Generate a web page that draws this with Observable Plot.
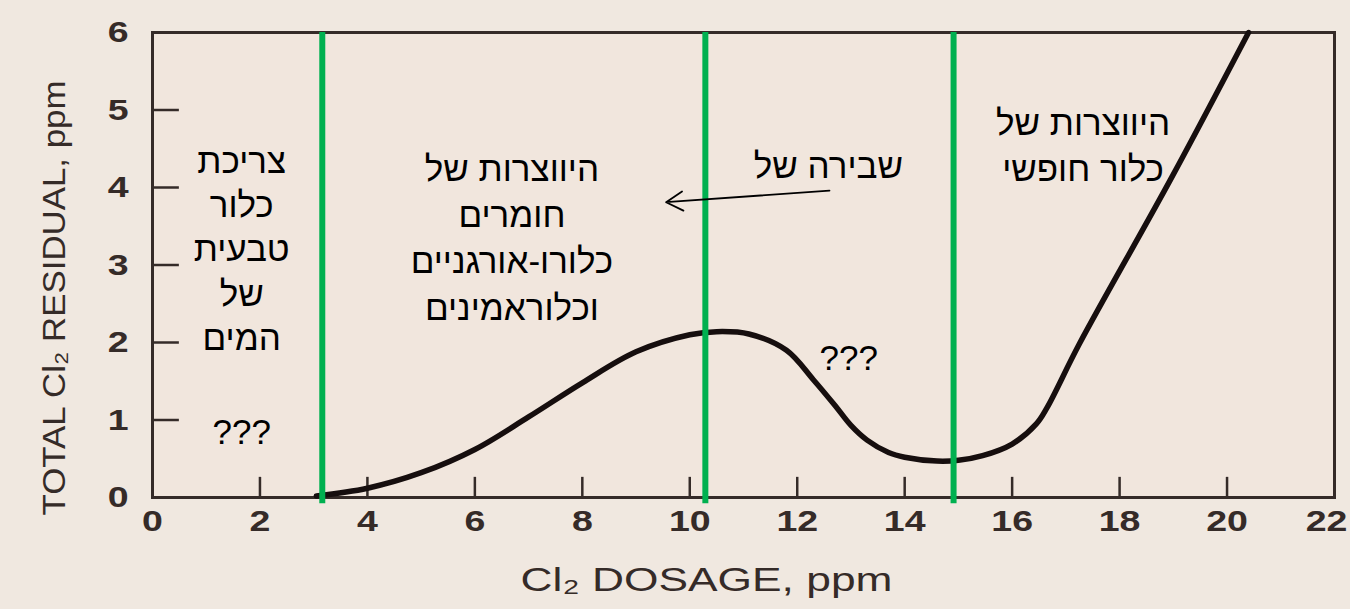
<!DOCTYPE html>
<html>
<head>
<meta charset="utf-8">
<script src="https://cdn.jsdelivr.net/npm/d3@7"></script>
<script src="https://cdn.jsdelivr.net/npm/@observablehq/plot@0.6"></script>
<style>
  html, body { margin: 0; padding: 0; background: #f0e8e0; }
  #chart { width: 1350px; height: 609px; }
</style>
</head>
<body>
<div id="chart"></div>
<script>
// ---- data ----
const curveX = [3.05, 4, 5, 6, 7, 8, 9, 10, 10.5, 11.1, 11.8, 12.3, 12.7, 13.0, 13.3, 13.7, 14, 14.6, 15.0, 15.45, 16, 16.45, 16.65, 17.25, 18.97, 20.4];
const curveY = [0.02, 0.12, 0.32, 0.62, 1.04, 1.48, 1.88, 2.1, 2.14, 2.11, 1.9, 1.52, 1.19, 0.93, 0.74, 0.58, 0.52, 0.47, 0.48, 0.54, 0.69, 0.95, 1.16, 1.98, 4.13, 6.0];
const greenX = [3.16, 10.29, 14.91];
const xTickLabels = [0, 2, 4, 6, 8, 10, 12, 14, 16, 18, 20, 22];
const yTickLabels = [0, 1, 2, 3, 4, 5, 6];
const xInnerTicks = [2, 4, 6, 8, 10, 12, 14, 16, 18, 20];
const yInnerTicks = [1, 2, 3, 4, 5];
const xTitle = "Cl\u2082 DOSAGE, ppm";
const yTitle = "TOTAL Cl\u2082 RESIDUAL, ppm";
const noteTexts = ["צריכת\nכלור\nטבעית\nשל\nהמים", "???", "היווצרות של\nחומרים\nכלורו-אורגניים\nוכלוראמינים", "שבירה של", "היווצרות של\nכלור חופשי", "???"];
const noteX = [1.66, 1.66, 6.69, 12.58, 17.32, 12.96];
const noteY = [3.23, 0.84, 3.38, 4.27, 4.57, 1.79];
const noteLH = [1.27, 1, 1.32, 1, 1.32, 1];
const arrowFrom = [12.60, 3.96];
const arrowTo = [9.56, 3.81];

const curve = curveX.map((x, i) => ({x, y: curveY[i]}));
const notes = noteTexts.map((t, i) => ({t, x: noteX[i], y: noteY[i], lh: noteLH[i]}));
const ink = "#352b28";
const font = "'Liberation Sans', Arial, sans-serif";

const notesMarks = notes.map(n => Plot.text([n], {
  x: "x", y: "y", text: "t", fontSize: 35, lineHeight: n.lh,
  fill: "#000", fontFamily: font, textAnchor: "middle", lineAnchor: "middle"
}));

const plot = Plot.plot({
  width: 1350, height: 609,
  marginLeft: 152, marginRight: 16, marginTop: 32, marginBottom: 112,
  x: {domain: [0, 22]},
  y: {domain: [0, 6]},
  style: {background: "transparent", fontFamily: font, overflow: "visible"},
  marks: [
    Plot.frame({fill: "#f1e6dd"}),
    Plot.ruleX(xInnerTicks, {y1: 0, y2: 0.26, stroke: ink, strokeWidth: 2.5}),
    Plot.ruleY(yInnerTicks, {x1: 0, x2: 0.5, stroke: ink, strokeWidth: 2.5}),
    Plot.frame({stroke: ink, strokeWidth: 3}),
    Plot.axisX(xTickLabels, {tickSize: 0, tickPadding: 12, fontSize: 30, fontWeight: "bold", fill: ink, label: null, tickFormat: d => String(d)}),
    Plot.axisY(yTickLabels, {tickSize: 0, tickPadding: 26, fontSize: 30, fontWeight: "bold", fill: ink, label: null, tickFormat: d => String(d)}),
    Plot.line(curve, {x: "x", y: "y", curve: "catmull-rom", stroke: "#160e0e", strokeWidth: 5.5}),
    Plot.ruleX(greenX, {y1: -0.08, y2: 6, stroke: "#00b050", strokeWidth: 6}),
    Plot.arrow([{x1: arrowFrom[0], y1: arrowFrom[1], x2: arrowTo[0], y2: arrowTo[1]}], {x1: "x1", y1: "y1", x2: "x2", y2: "y2", stroke: "#000", strokeWidth: 1.8, headLength: 16, bend: 0}),
    ...notesMarks,
    Plot.text([xTitle], {frameAnchor: "bottom", dx: -37, dy: 83, fontSize: 34, fill: ink, fontFamily: font, textAnchor: "middle", lineAnchor: "middle"}),
    Plot.text([yTitle], {frameAnchor: "left", dx: -97, dy: 33, rotate: -90, fontSize: 31, fill: ink, fontFamily: font, textAnchor: "middle", lineAnchor: "middle"})
  ]
});
document.getElementById("chart").appendChild(plot);

// widen the extended-style typography: horizontal scale about each text's own centre
function stretch(t, s, shift) {
  const b = t.getBBox();
  const cx = b.x + b.width / 2;
  const tr = t.getAttribute("transform") || "";
  t.setAttribute("transform", `${tr} translate(${cx + (shift || 0)},0) scale(${s},1) translate(${-cx},0)`);
}
plot.querySelectorAll("text").forEach(t => {
  const s = t.textContent;
  if (s === xTitle) stretch(t, 372 / t.getBBox().width);
  else if (s === yTitle) stretch(t, 435 / t.getBBox().width);
  else if (/^\d+$/.test(s)) stretch(t, 1.25, s === "22" ? -8 : 0);
});
</script>
</body>
</html>
